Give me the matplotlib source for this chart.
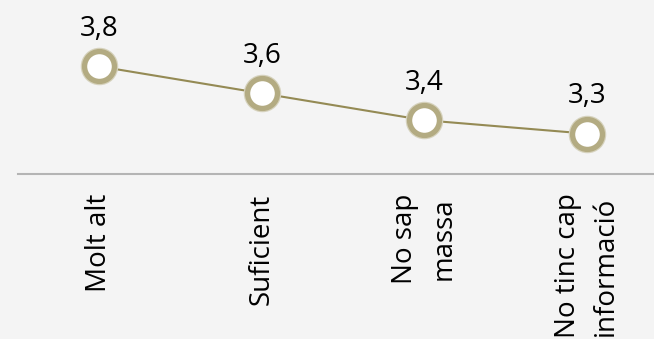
import matplotlib
matplotlib.use("Agg")
import matplotlib.pyplot as plt

categories = ["Molt alt", "Suficient", "No sap\nmassa", "No tinc cap\ninformació"]
values = [3.8, 3.6, 3.4, 3.3]
value_labels = ["3,8", "3,6", "3,4", "3,3"]

plt.rcParams['font.family'] = ['Open Sans', 'DejaVu Sans']

W, H = 654, 339
fig = plt.figure(figsize=(W / 100, H / 100), dpi=100)
bg = '#f4f4f4'
fig.patch.set_facecolor(bg)

left = 18 / W
width = 650 / W
bottom = (H - 174) / H
ax = fig.add_axes([left, bottom, width, 1 - bottom])
ax.set_facecolor(bg)

x = list(range(len(categories)))
ax.plot(x, values, color='#948a54', linewidth=1.5, zorder=2)
# soft halo for blurred marker edge
ax.plot(x, values, linestyle='none', marker='o', markersize=25.5, markerfacecolor='none',
        markeredgecolor='#d6d2bd', markeredgewidth=1.5, zorder=3)
ax.plot(x, values, linestyle='none', marker='o', markersize=21.5, markerfacecolor='white',
        markeredgecolor='#b3ab82', markeredgewidth=3.8, zorder=4)

for xi, v, lab in zip(x, values, value_labels):
    ax.annotate(lab, (xi, v), xytext=(0, 17), textcoords='offset points',
                ha='center', va='bottom', fontsize=20, color='black', zorder=5)

ax.set_xlim(-0.5, 3.5)
ax.set_ylim(3.0, 3.0 + 174 / 134.5)
ax.set_xticks(x)
ax.set_xticklabels(categories, rotation=90, fontsize=20, va='top', ha='center',
                   multialignment='center')
for t in ax.get_xticklabels():
    t.set_linespacing(1.5)
ax.tick_params(axis='x', length=0, pad=14)
ax.set_yticks([])
for s in ['top', 'right', 'left']:
    ax.spines[s].set_visible(False)
ax.spines['bottom'].set_color('#b4b4b4')
ax.spines['bottom'].set_linewidth(1.5)

fig.savefig('out.png', dpi=100, facecolor=bg)
